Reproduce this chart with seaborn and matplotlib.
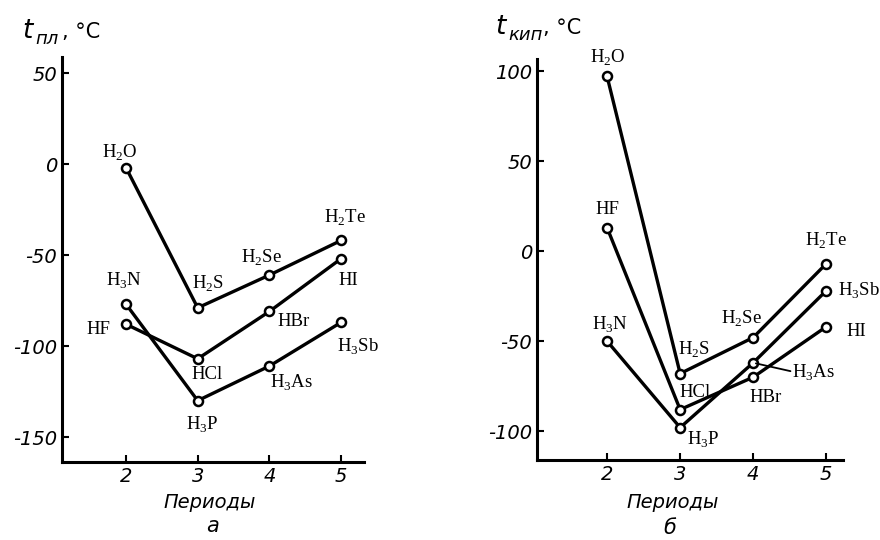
import matplotlib
matplotlib.use("Agg")
import matplotlib.pyplot as plt
import seaborn as sns

# periods on the x axis
periods = [2, 3, 4, 5]

# melting points (panel a), degrees C
melt_h2x = [-2, -79, -61, -42]
melt_hx = [-88, -107, -81, -52]
melt_h3x = [-77, -130, -111, -87]

# boiling points (panel b)
boil_h2x = [97, -68, -48, -7]
boil_hx = [13, -88, -70, -42]
boil_h3x = [-50, -98, -62, -22]

names_h2x = ["H$_\\mathregular{2}$O", "H$_\\mathregular{2}$S", "H$_\\mathregular{2}$Se", "H$_\\mathregular{2}$Te"]
names_hx = ["HF", "HCl", "HBr", "HI"]
names_h3x = ["H$_\\mathregular{3}$N", "H$_\\mathregular{3}$P", "H$_\\mathregular{3}$As", "H$_\\mathregular{3}$Sb"]

sns.set_style("ticks", {"axes.edgecolor": "black", "xtick.color": "black",
                        "ytick.color": "black", "text.color": "black"})
plt.rcParams["axes.unicode_minus"] = False
plt.rcParams["font.family"] = ["DejaVu Sans"]

fig = plt.figure(figsize=(8.8, 5.4), dpi=100)
ax_a = fig.add_axes([62 / 880, 1 - 462 / 540, 302 / 880, 405 / 540])
ax_b = fig.add_axes([537 / 880, 1 - 460 / 540, 306 / 880, 401 / 540])

label_font = dict(family="Liberation Serif", fontsize=13.5, color="black")

# label offsets in pixels (dx, dy) per point, same order as the series
offs_a = {
    "h2x": [(-6, 15), (10, 24), (-8, 17), (4, 23)],
    "hx": [(-28, -5), (9, -16), (24, -10), (7, -22)],
    "h3x": [(-2, 23), (5, -24), (22, -17), (17, -24)],
}
offs_b = {
    "h2x": [(1, 19), (14, 24), (-12, 19), (0, 23)],
    "hx": [(0, 18), (15, 17), (12, -20), (30, -5)],
    "h3x": [(3, 16), (23, -12), (60, -10), (33, 0)],
}


def draw_panel(ax, series, offs):
    for key, vals, names in series:
        sns.lineplot(x=periods, y=vals, ax=ax, color="black", linewidth=2.4,
                     marker="o", markersize=6.5, markerfacecolor="white",
                     markeredgecolor="black", markeredgewidth=1.8)
        for i, (xv, yv) in enumerate(zip(periods, vals)):
            dx, dy = offs[key][i]
            ax.annotate(names[i], (xv, yv), xytext=(dx, dy),
                        textcoords="offset pixels", ha="center", va="center",
                        **label_font)
    for s in ["top", "right"]:
        ax.spines[s].set_visible(False)
    for s in ["left", "bottom"]:
        ax.spines[s].set_linewidth(2.2)
        ax.spines[s].set_color("black")
    ax.set_xticks(periods)
    ax.tick_params(direction="in", length=5, width=1.5, labelsize=14,
                   colors="black")
    ax.set_xlabel("")
    ax.set_ylabel("")
    ax.set_facecolor("white")


draw_panel(ax_a, [("h2x", melt_h2x, names_h2x), ("hx", melt_hx, names_hx),
                  ("h3x", melt_h3x, names_h3x)], offs_a)
ax_a.set_xlim(1.107, 5.32)
ax_a.set_ylim(-163.7, 58.8)
ax_a.set_yticks([50, 0, -50, -100, -150])
for lab in ax_a.get_xticklabels() + ax_a.get_yticklabels():
    lab.set_fontstyle("italic")

draw_panel(ax_b, [("h2x", boil_h2x, names_h2x), ("hx", boil_hx, names_hx),
                  ("h3x", boil_h3x, names_h3x)], offs_b)
ax_b.set_xlim(1.04, 5.23)
ax_b.set_ylim(-116, 106.7)
ax_b.set_yticks([100, 50, 0, -50, -100])
for lab in ax_b.get_xticklabels() + ax_b.get_yticklabels():
    lab.set_fontstyle("italic")

# leader line for H3As in panel b
ax_b.annotate("", xy=(4, boil_h3x[2]), xytext=(40, -9), textcoords="offset pixels",
              arrowprops=dict(arrowstyle="-", color="black", lw=1.3))


def px(x, y):
    return x / 880, 1 - y / 540


# axis titles
fig.text(*px(22, 38), "t", fontsize=19, fontstyle="italic", va="baseline")
fig.text(*px(35, 44), "пл", fontsize=13, fontstyle="italic", va="baseline")
fig.text(*px(62, 38), ", °C", fontsize=15, va="baseline")
fig.text(*px(495, 34), "t", fontsize=19, fontstyle="italic", va="baseline")
fig.text(*px(508, 40), "кип", fontsize=13, fontstyle="italic", va="baseline")
fig.text(*px(543, 34), ", °C", fontsize=15, va="baseline")

fig.text(*px(210, 502), "Периоды", fontsize=14, fontstyle="italic", ha="center", va="center")
fig.text(*px(213, 526), "а", fontsize=15, fontstyle="italic", ha="center", va="center")
fig.text(*px(673, 503), "Периоды", fontsize=14, fontstyle="italic", ha="center", va="center")
fig.text(*px(670, 528), "б", fontsize=15, fontstyle="italic", ha="center", va="center")

fig.savefig("out.png", dpi=100, facecolor="white")
